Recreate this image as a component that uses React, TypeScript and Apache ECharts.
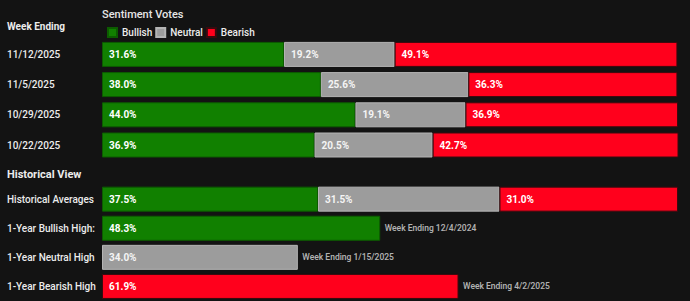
import React, { useEffect, useRef } from "react";
import * as echarts from "echarts";

const weeks = ["11/12/2025", "11/5/2025", "10/29/2025", "10/22/2025"];
const bullish = [31.6, 38.0, 44.0, 36.9];
const neutral = [19.2, 25.6, 19.1, 20.5];
const bearish = [49.1, 36.3, 36.9, 42.7];

const histRows = ["Historical Averages", "1-Year Bullish High:", "1-Year Neutral High", "1-Year Bearish High"];
const histBullish = [37.5, 48.3, null, null];
const histNeutral = [31.5, null, 34.0, null];
const histBearish = [31.0, null, null, 61.9];
const histNotes = ["", "Week Ending 12/4/2024", "Week Ending 1/15/2025", "Week Ending 4/2/2025"];

const legendNames = ["Bullish", "Neutral", "Bearish"];

const FONT = "Roboto";
const GREEN = "#118000";
const GRAY = "#9c9c9c";
const RED = "#ff001c";

export default function App() {
  const ref = useRef<HTMLDivElement>(null);
  useEffect(() => {
    if (!ref.current) return;
    const chart = echarts.init(ref.current, null, { renderer: "svg" });
    const valueLabel = (color: string) => ({
      show: true,
      position: "insideLeft",
      distance: 7,
      color,
      fontFamily: FONT,
      fontWeight: "bold",
      fontSize: 10,
      formatter: (p: any) => (p.value == null || isNaN(p.value) ? "" : Number(p.value).toFixed(1) + "%"),
    });
    const styles: Record<string, any> = {
      Bullish: { color: GREEN, borderColor: "#0c5c00", borderWidth: 1 },
      Neutral: { color: GRAY, borderColor: "#b4b4b4", borderWidth: 1 },
      Bearish: { color: RED, borderColor: "#3a0a0e", borderWidth: 1 },
    };
    const labelColors: Record<string, string> = { Bullish: "#ffffff", Neutral: "#f4f4f4", Bearish: "#ffffff" };
    const mkBar = (name: string, data: any[], idx: number, stack: string) => ({
      type: "bar",
      name,
      stack,
      xAxisIndex: idx,
      yAxisIndex: idx,
      barWidth: 25,
      data,
      itemStyle: styles[name],
      label: valueLabel(labelColors[name]),
    });
    const noteData = histRows
      .map((_, i) => {
        const total = [histBullish[i], histNeutral[i], histBearish[i]].reduce(
          (s: number, v) => s + (v == null ? 0 : (v as number)),
          0
        );
        return histNotes[i] ? { value: [total, i], note: histNotes[i] } : null;
      })
      .filter(Boolean);

    const yAxisBase = {
      type: "category",
      inverse: true,
      axisLine: { show: false },
      axisTick: { show: false },
      splitLine: { show: false },
      axisLabel: {
        align: "left",
        margin: 95,
        color: "#ececec",
        fontFamily: FONT,
        fontWeight: 500,
        fontSize: 10,
      },
    };
    const xAxisBase = { type: "value", min: 0, max: 100, show: false };

    chart.setOption({
      animation: false,
      backgroundColor: "#131313",
      textStyle: { fontFamily: FONT },
      legend: {
        data: legendNames,
        left: 102,
        top: 22,
        icon: "rect",
        itemWidth: 9,
        itemHeight: 9,
        itemGap: 3,
        selectedMode: false,
        textStyle: { color: "#ececec", fontFamily: FONT, fontWeight: 500, fontSize: 10 },
      },
      graphic: [
        {
          type: "text",
          left: 102,
          top: 9,
          style: { text: "Sentiment Votes", fill: "#e6e6e6", font: `500 11px ${FONT}` },
        },
        {
          type: "text",
          left: 7,
          top: 21,
          style: { text: "Week Ending", fill: "#ececec", font: `bold 10px ${FONT}` },
        },
        {
          type: "text",
          left: 7,
          top: 169,
          style: { text: "Historical View", fill: "#ececec", font: `bold 11px ${FONT}` },
        },
      ],
      grid: [
        { left: 102, width: 576, top: 39.3, height: 120.8 },
        { left: 102, width: 576, top: 184.6, height: 120.8 },
      ],
      xAxis: [
        { ...xAxisBase, gridIndex: 0 },
        { ...xAxisBase, gridIndex: 1 },
      ],
      yAxis: [
        { ...yAxisBase, gridIndex: 0, data: weeks },
        { ...yAxisBase, gridIndex: 1, data: histRows },
      ],
      series: [
        mkBar("Bullish", bullish, 0, "w"),
        mkBar("Neutral", neutral, 0, "w"),
        mkBar("Bearish", bearish, 0, "w"),
        mkBar("Bullish", histBullish, 1, "h"),
        mkBar("Neutral", histNeutral, 1, "h"),
        mkBar("Bearish", histBearish, 1, "h"),
        {
          type: "scatter",
          name: "notes",
          xAxisIndex: 1,
          yAxisIndex: 1,
          symbolSize: 1,
          itemStyle: { color: "rgba(0,0,0,0)" },
          silent: true,
          data: noteData,
          label: {
            show: true,
            position: "right",
            distance: 4,
            color: "#e0e0e0",
            fontFamily: FONT,
            fontWeight: 500,
            fontSize: 8.5,
            formatter: (p: any) => p.data.note,
          },
        },
      ],
    });
    return () => chart.dispose();
  }, []);
  return (
    <div
      ref={ref}
      style={{ position: "fixed", left: 0, top: 0, width: 690, height: 301 }}
    />
  );
}
